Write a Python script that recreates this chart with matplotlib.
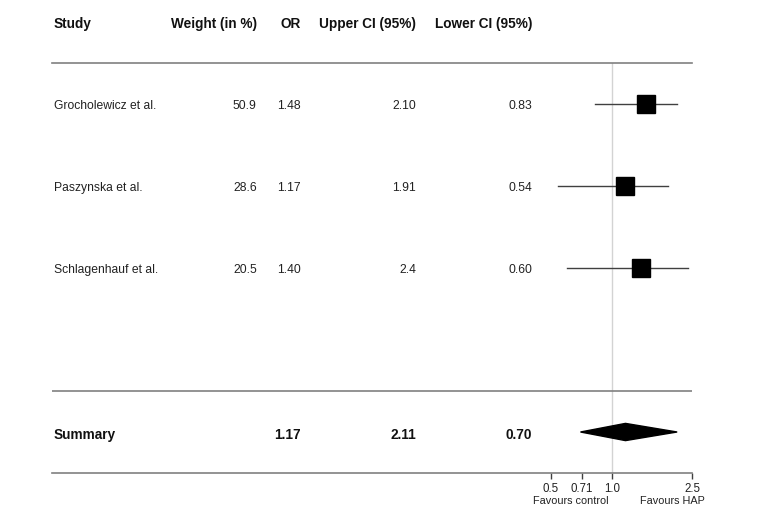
import matplotlib
matplotlib.use('Agg')
from matplotlib import pyplot as plt
from matplotlib import transforms

plt.rcParams['font.family'] = ['Liberation Sans', 'DejaVu Sans']

# data
studies = ['Grocholewicz et al.', 'Paszynska et al.', 'Schlagenhauf et al.']
weights = ['50.9', '28.6', '20.5']
odds = [1.48, 1.17, 1.40]
upper = [2.10, 1.91, 2.4]
lower = [0.83, 0.54, 0.60]
upper_txt = ['2.10', '1.91', '2.4']
summary_or = 1.17
summary_upper = 2.11
summary_lower = 0.70
headers = ['Study', 'Weight (in %)', 'OR', 'Upper CI (95%)', 'Lower CI (95%)']
tick_vals = [0.5, 0.71, 1.0, 2.5]
tick_labels = ['0.5', '0.71', '1.0', '2.5']

fig = plt.figure(figsize=(7.68, 5.32), dpi=100)
ax = fig.add_axes([52 / 768, 59 / 532, 640 / 768, 410 / 532])
ax.set_xscale('log')
ax.set_xlim(0.00168, 2.5)
ax.set_ylim(5.5, 0.5)

rule = '#808080'
for side in ['left', 'right']:
    ax.spines[side].set_visible(False)
for side in ['top', 'bottom']:
    ax.spines[side].set_color(rule)
    ax.spines[side].set_linewidth(1.2)
ax.axhline(4.5, color=rule, lw=1.2)
ax.axvline(1.0, color='#d3d3d3', lw=1.0, zorder=0)

ax.set_yticks([])
ax.set_xticks(tick_vals)
ax.set_xticklabels(tick_labels)
ax.minorticks_off()
ax.tick_params(axis='x', colors='#404040', labelcolor='#222222', labelsize=8.3,
               length=4, width=1, pad=3)

rows = range(1, len(studies) + 1)
for y, o, lo, up in zip(rows, odds, lower, upper):
    ax.plot([lo, up], [y, y], color='#404040', lw=1.0, zorder=2)
    ax.plot(o, y, marker='s', color='black', markersize=13.3, zorder=3)

ys = 5
ax.fill([summary_lower, summary_or, summary_upper, summary_or],
        [ys, ys - 0.105, ys, ys + 0.105], color='black', zorder=3)

fav = transforms.blended_transform_factory(ax.transData, ax.transAxes)
ax.text(0.63, -0.057, 'Favours control', transform=fav, ha='center', va='top',
        fontsize=7.8, color='#222222')
ax.text(2.0, -0.057, 'Favours HAP', transform=fav, ha='center', va='top',
        fontsize=7.8, color='#222222')

# table columns
tr = transforms.blended_transform_factory(ax.transAxes, ax.transData)
col_x = [0.003, 0.320, 0.389, 0.569, 0.750]
col_ha = ['left', 'right', 'right', 'right', 'right']
dy = 0.03
for x, ha, h in zip(col_x, col_ha, headers):
    ax.text(x, 0.03, h, transform=tr, ha=ha, va='center', fontsize=9.8,
            fontweight='bold', color='#111111')

for y, s, w, o, u, lo in zip(rows, studies, weights, odds, upper_txt, lower):
    vals = [s, w, '%.2f' % o, u, '%.2f' % lo]
    for x, ha, v in zip(col_x, col_ha, vals):
        ax.text(x, y + dy, v, transform=tr, ha=ha, va='center', fontsize=8.7,
                color='#222222')

summary_vals = ['Summary', '', '%.2f' % summary_or, '%.2f' % summary_upper, '%.2f' % summary_lower]
for x, ha, v in zip(col_x, col_ha, summary_vals):
    ax.text(x, ys + 0.035, v, transform=tr, ha=ha, va='center', fontsize=9.8,
            fontweight='bold', color='#111111')

fig.savefig('out.png', dpi=100)
